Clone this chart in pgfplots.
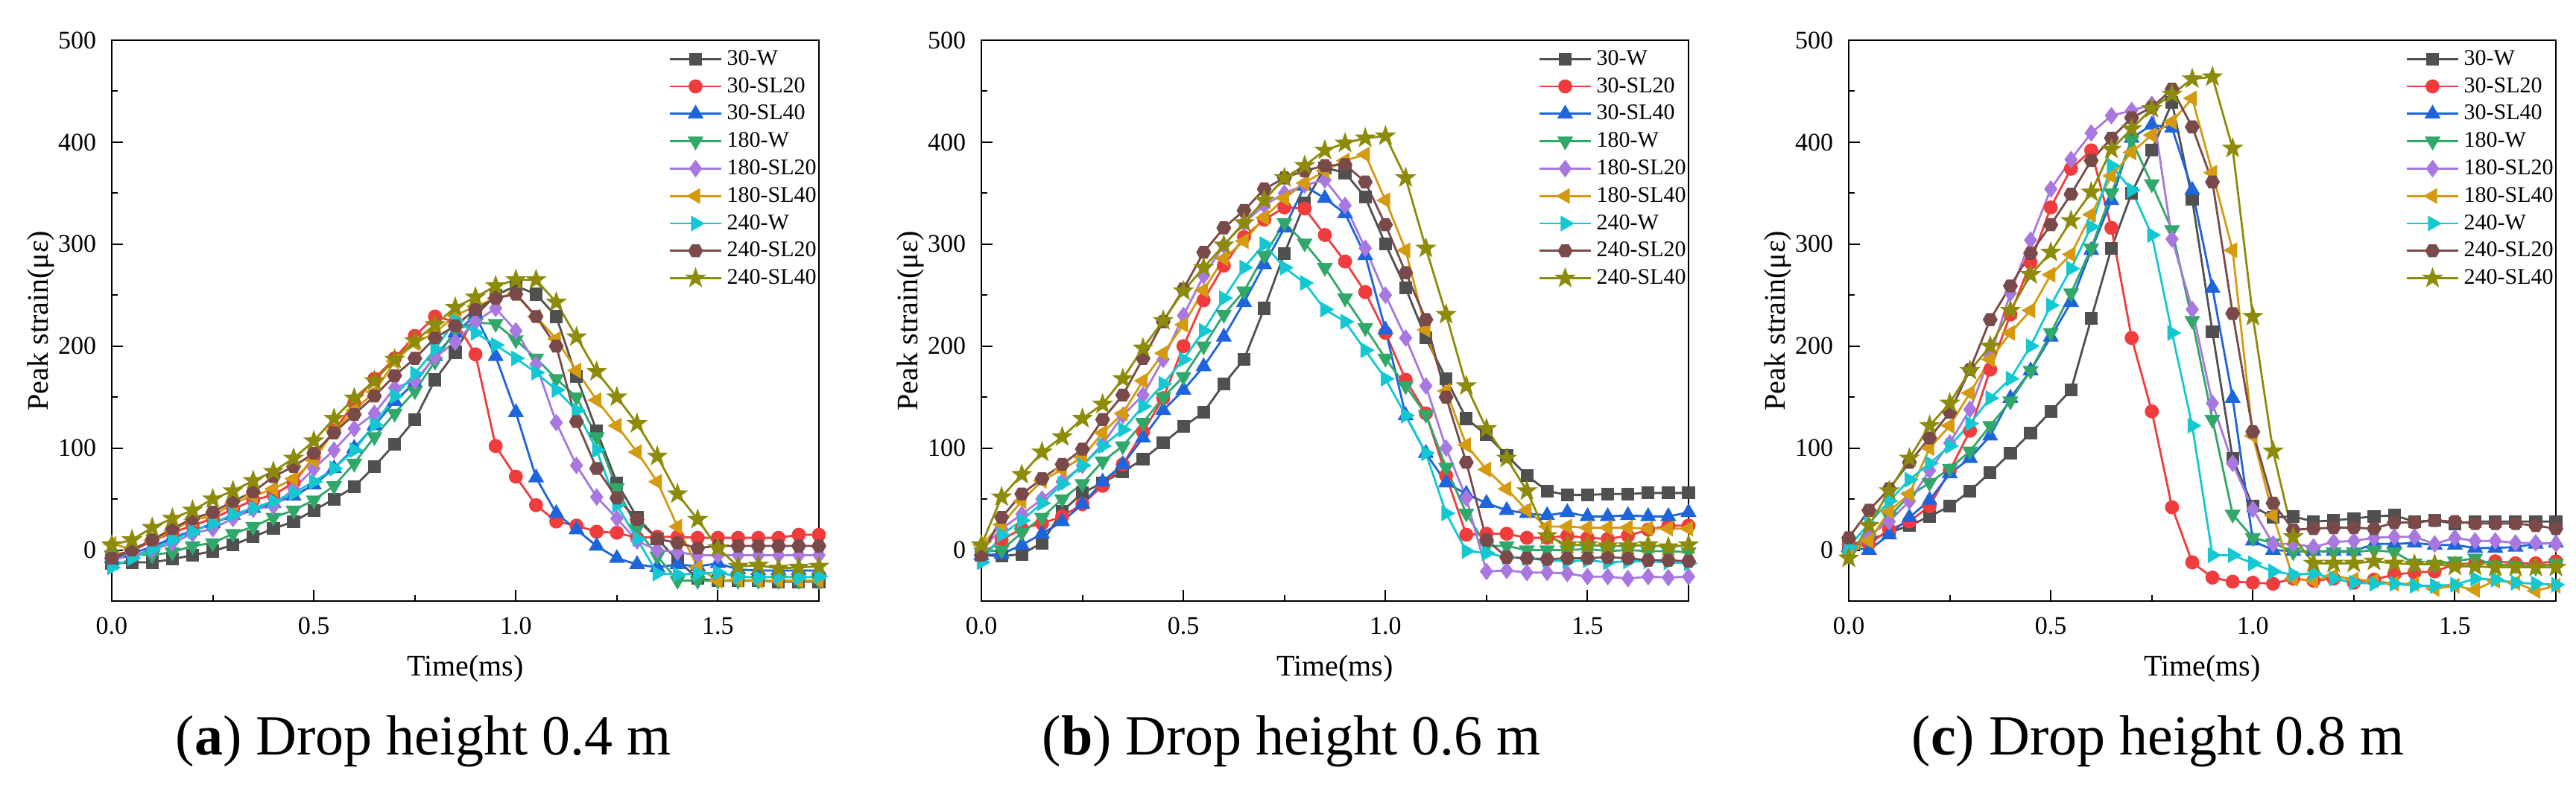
\documentclass[border=0pt]{standalone}
\usepackage{pgfplots}
\pgfplotsset{compat=1.18}
\usepackage{pgfplotstable}
\usepackage{fontspec}
\setmainfont{Liberation Serif}

\definecolor{cA}{HTML}{505050}
\definecolor{cB}{HTML}{F03C3C}
\definecolor{cC}{HTML}{1E64DC}
\definecolor{cD}{HTML}{30A86A}
\definecolor{cE}{HTML}{A878E0}
\definecolor{cF}{HTML}{D49B10}
\definecolor{cG}{HTML}{14C8D2}
\definecolor{cH}{HTML}{7A4A4A}
\definecolor{cI}{HTML}{8C8C0A}

\pgfdeclareplotmark{hexagon*}{%
  \pgfpathmoveto{\pgfpointpolar{0}{\pgfplotmarksize}}%
  \pgfpathlineto{\pgfpointpolar{60}{\pgfplotmarksize}}%
  \pgfpathlineto{\pgfpointpolar{120}{\pgfplotmarksize}}%
  \pgfpathlineto{\pgfpointpolar{180}{\pgfplotmarksize}}%
  \pgfpathlineto{\pgfpointpolar{240}{\pgfplotmarksize}}%
  \pgfpathlineto{\pgfpointpolar{300}{\pgfplotmarksize}}%
  \pgfpathclose
  \pgfusepathqfillstroke}
\pgfdeclareplotmark{fstar*}{%
  \pgfpathmoveto{\pgfpointpolar{90}{\pgfplotmarksize}}%
  \pgfpathlineto{\pgfpointpolar{126}{0.4\pgfplotmarksize}}%
  \pgfpathlineto{\pgfpointpolar{162}{\pgfplotmarksize}}%
  \pgfpathlineto{\pgfpointpolar{198}{0.4\pgfplotmarksize}}%
  \pgfpathlineto{\pgfpointpolar{234}{\pgfplotmarksize}}%
  \pgfpathlineto{\pgfpointpolar{270}{0.4\pgfplotmarksize}}%
  \pgfpathlineto{\pgfpointpolar{306}{\pgfplotmarksize}}%
  \pgfpathlineto{\pgfpointpolar{342}{0.4\pgfplotmarksize}}%
  \pgfpathlineto{\pgfpointpolar{18}{\pgfplotmarksize}}%
  \pgfpathlineto{\pgfpointpolar{54}{0.4\pgfplotmarksize}}%
  \pgfpathclose
  \pgfusepathqfillstroke}

% columns: t, 30-W, 30-SL20, 30-SL40, 180-W, 180-SL20, 180-SL40, 240-W, 240-SL20, 240-SL40
\pgfplotstableread{
t a b c d e f g h i
0.00 -13 -5 -8 -5 -10 6 -17 -8 5
0.05 -12 -1 -3 -4 -5 1 -8 0 10
0.10 -12 9 3 -5 0 9 1 10 22
0.15 -9 17 12 -2 7 19 10 21 31
0.20 -5 24 19 4 16 30 18 31 39
0.25 -1 31 26 7 21 33 26 37 50
0.30 5 40 34 16 31 46 35 48 58
0.35 13 49 41 23 40 53 41 57 68
0.40 21 54 46 32 43 60 48 72 77
0.45 28 66 53 39 60 70 56 82 90
0.50 39 91 64 49 80 88 67 95 107
0.55 50 117 80 63 98 117 80 115 129
0.60 62 144 100 85 119 137 98 133 149
0.65 82 168 122 111 134 155 123 151 166
0.70 104 188 146 134 159 185 151 171 187
0.75 128 210 164 156 166 203 173 188 205
0.80 167 229 190 185 189 213 197 208 221
0.85 194 224 213 216 204 230 225 220 238
0.90 230 192 230 223 224 239 213 236 248
0.95 250 102 190 222 237 247 201 247 259
1.00 259 72 135 206 215 252 188 251 265
1.05 251 44 71 188 182 229 174 229 265
1.10 229 28 36 168 125 207 157 200 243
1.15 170 24 20 150 83 176 137 126 209
1.20 117 18 4 111 52 147 98 80 175
1.25 66 17 -8 61 31 122 44 51 150
1.30 32 12 -14 21 9 96 11 30 124
1.35 11 13 -17 -6 0 67 -23 11 92
1.40 -10 13 -14 -30 -2 23 -24 7 55
1.45 -28 12 -16 -30 -5 -17 -23 2 30
1.50 -30 12 -13 -30 -5 -30 -22 4 2
1.55 -30 12 -19 -30 -5 -29 -26 4 -16
1.60 -30 12 -20 -30 -5 -30 -27 4 -15
1.65 -31 12 -20 -30 -5 -30 -26 4 -18
1.70 -31 15 -20 -30 -5 -30 -27 4 -17
1.75 -31 15 -20 -30 -5 -30 -26 4 -16
}\tabA

\pgfplotstableread{
t a b c d e f g h i
0.00 -5 -5 -5 -2 0 5 -12 -5 5
0.05 -6 10 -4 0 21 25 15 32 52
0.10 -4 21 5 17 35 48 29 55 74
0.15 7 26 16 32 50 68 46 70 96
0.20 38 33 28 50 67 79 65 84 111
0.25 56 45 45 65 83 91 83 99 129
0.30 66 63 67 87 104 115 102 128 143
0.35 77 84 84 102 132 134 118 152 168
0.40 89 116 110 125 152 166 141 188 198
0.45 105 149 137 150 187 193 163 224 225
0.50 121 200 157 170 230 221 187 256 254
0.55 135 245 180 200 269 255 215 292 277
0.60 163 279 209 231 299 286 247 316 299
0.65 187 307 243 254 321 303 277 333 321
0.70 237 324 280 289 338 326 300 354 343
0.75 291 336 316 321 350 345 277 365 365
0.80 340 335 357 301 358 360 262 372 377
0.85 375 309 345 277 363 372 236 377 392
0.90 370 283 330 247 338 382 224 378 399
0.95 346 253 289 218 296 388 196 361 404
1.00 300 213 216 188 250 343 168 319 406
1.05 257 167 132 161 208 294 132 272 365
1.10 208 134 95 133 161 216 95 226 296
1.15 168 73 66 81 100 156 36 150 231
1.20 129 15 55 36 51 103 -1 86 161
1.25 113 16 46 4 -21 79 -3 10 119
1.30 93 16 39 4 -20 60 -7 -7 90
1.35 73 12 36 0 -22 39 -8 -8 58
1.40 58 12 34 0 -22 23 -10 -9 14
1.45 54 14 37 0 -23 23 -11 -8 5
1.50 54 12 33 1 -26 22 -10 -8 5
1.55 55 11 33 -1 -26 22 -12 -7 4
1.60 55 14 34 0 -28 22 -11 -8 4
1.65 56 20 33 -1 -26 21 -11 -10 5
1.70 56 24 33 -1 -27 21 -12 -10 3
1.75 56 24 37 -2 -26 21 -13 -11 5
}\tabB

\pgfplotstableread{
t a b c d e f g h i
0.00 5 5 3 -5 0 -5 3 12 -8
0.05 10 6 0 11 14 9 26 39 24
0.10 17 20 15 33 28 38 48 60 58
0.15 24 28 32 53 48 55 69 86 90
0.20 33 43 49 66 78 100 85 110 122
0.25 43 78 75 80 105 122 102 135 144
0.30 58 117 90 97 138 154 124 177 176
0.35 76 177 112 122 190 187 149 226 200
0.40 95 231 149 146 252 213 168 259 235
0.45 115 282 176 176 304 235 200 291 270
0.50 136 336 209 213 354 270 240 319 292
0.55 157 374 243 252 383 290 276 349 323
0.60 227 392 294 296 409 329 317 382 351
0.65 296 316 343 350 426 367 377 404 393
0.70 350 208 404 402 431 390 353 424 413
0.75 392 136 417 359 437 407 309 434 433
0.80 439 42 414 314 305 420 213 452 447
0.85 344 -12 353 225 236 443 122 415 462
0.90 214 -27 257 128 144 370 -5 361 464
0.95 90 -31 149 35 85 294 -5 232 394
1.00 43 -32 9 12 40 112 -13 116 229
1.05 32 -33 0 7 6 34 -21 46 97
1.10 33 -28 -1 -2 6 -28 -24 20 13
1.15 28 -30 -1 -1 3 -30 -23 21 -13
1.20 29 -28 -1 -2 8 -25 -28 22 -13
1.25 31 -32 -1 -2 9 -29 -32 22 -13
1.30 33 -29 6 0 12 -30 -33 21 -11
1.35 34 -24 6 -2 13 -33 -33 27 -13
1.40 28 -22 7 -13 13 -33 -35 27 -14
1.45 29 -21 5 -14 6 -38 -35 29 -14
1.50 26 -14 5 -11 12 -35 -34 28 -16
1.55 28 -13 2 -8 9 -39 -28 26 -16
1.60 28 -11 2 -15 9 -30 -29 26 -17
1.65 28 -13 3 -15 7 -32 -32 26 -17
1.70 28 -13 6 -17 7 -40 -33 24 -17
1.75 28 -11 7 -13 6 -35 -34 21 -17
}\tabC

\pgfplotsset{
  s1/.style={color=cA, mark=square*, mark size=1.8pt},
  s2/.style={color=cB, mark=*, mark size=2pt},
  s3/.style={color=cC, mark=triangle*, mark size=2.4pt},
  s4/.style={color=cD, mark=triangle*, mark size=2.4pt, mark options={rotate=180}},
  s5/.style={color=cE, mark=diamond*, mark size=2.4pt},
  s6/.style={color=cF, mark=triangle*, mark size=2.4pt, mark options={rotate=90}},
  s7/.style={color=cG, mark=triangle*, mark size=2.4pt, mark options={rotate=-90}},
  s8/.style={color=cH, mark=hexagon*, mark size=2.1pt},
  s9/.style={color=cI, mark=fstar*, mark size=2.7pt},
  panel/.style={
    scale only axis, width=237.25pt, height=188.25pt, anchor=south west,
    xmin=0, xmax=1.75, ymin=-50, ymax=500,
    xtick={0,0.5,1,1.5}, ytick={0,100,...,500},
    minor x tick num=1, minor y tick num=1,
    tick align=inside, xtick pos=left, ytick pos=left,
    major tick length=3.8pt, minor tick length=2pt,
    axis line style={line width=0.7pt},
    tick style={line width=0.5pt, black},
    /pgf/number format/assume math mode=true,
    xticklabel style={/pgf/number format/fixed, /pgf/number format/fixed zerofill, /pgf/number format/precision=1, yshift=-2pt},
    yticklabel style={xshift=-1.7pt},
    tick label style={font=\fontsize{8.5}{10}\selectfont},
    label style={font=\fontsize{9}{10}\selectfont},
    xlabel={Time(ms)}, ylabel={Peak strain(με)},
    every axis x label/.style={at={(axis description cs:0.5,0)}, anchor=center, yshift=-22.75pt},
    every axis y label/.style={at={(axis description cs:-0.1002,0.5)}, rotate=90, anchor=center},
    every axis plot/.append style={line width=0.7pt},
    legend cell align=left,
    legend style={at={(rel axis cs:0.787,1)}, anchor=north west, yshift=-1.5pt,
      draw=none, fill=none, inner sep=0pt, font=\fontsize{7.5}{9}\selectfont, row sep=0pt,
      column sep=1pt,
      nodes={font=\fontsize{7.5}{9}\selectfont, inner sep=0.6pt, text height=6pt, text depth=2pt}},
    legend image code/.code={\draw[mark repeat=2,mark phase=2] plot coordinates {(0pt,0pt) (8.6pt,0pt) (17.2pt,0pt)};},
  },
}

\newcommand{\allplots}[1]{%
  \addplot[s1] table[x=t,y=a]{#1};
  \addplot[s2] table[x=t,y=b]{#1};
  \addplot[s3] table[x=t,y=c]{#1};
  \addplot[s4] table[x=t,y=d]{#1};
  \addplot[s5] table[x=t,y=e]{#1};
  \addplot[s6] table[x=t,y=f]{#1};
  \addplot[s7] table[x=t,y=g]{#1};
  \addplot[s8] table[x=t,y=h]{#1};
  \addplot[s9] table[x=t,y=i]{#1};
  \legend{30-W,30-SL20,30-SL40,180-W,180-SL20,180-SL40,240-W,240-SL20,240-SL40}
}

\begin{document}
\begin{tikzpicture}
\useasboundingbox (0,0) rectangle (864.25pt,263.25pt);
\begin{axis}[panel, at={(37.5pt,61.5pt)}]
\allplots{\tabA}
\end{axis}
\begin{axis}[panel, at={(329.25pt,61.5pt)}]
\allplots{\tabB}
\end{axis}
\begin{axis}[panel, at={(620.25pt,61.5pt)}]
\allplots{\tabC}
\end{axis}
\node[anchor=base west, inner sep=0pt, font=\fontsize{19}{22}\selectfont] at (58.75pt,10pt) {(\textbf{a}) Drop height 0.4 m};
\node[anchor=base west, inner sep=0pt, font=\fontsize{19}{22}\selectfont] at (349.5pt,10pt) {(\textbf{b}) Drop height 0.6 m};
\node[anchor=base west, inner sep=0pt, font=\fontsize{19}{22}\selectfont] at (641.25pt,10pt) {(\textbf{c}) Drop height 0.8 m};
\end{tikzpicture}
\end{document}
